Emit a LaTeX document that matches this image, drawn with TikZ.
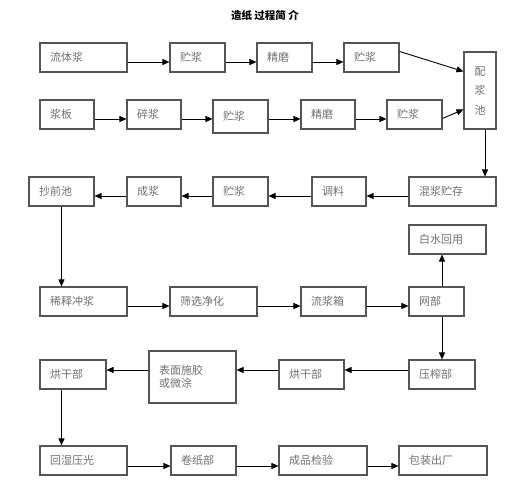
\documentclass[tikz,border=0pt]{standalone}
\usepackage{fontspec}
\newfontfamily\cjk{Noto Sans CJK SC}
\usetikzlibrary{arrows.meta,calc}
\definecolor{txtgray}{HTML}{707070}
\definecolor{boxgray}{HTML}{555555}
\tikzset{
  bx/.style={draw=boxgray, line width=1.1pt, fill=white, inner xsep=10pt, inner ysep=0pt,
    align=left, text=txtgray, font=\cjk\fontsize{11}{13}\selectfont},
  arr/.style={line width=0.9pt, draw=black, -{Triangle[length=7pt,width=6pt]}},
}
\newcommand\bx[6]{%
  \pgfmathsetmacro\bxw{#4-#2}\pgfmathsetmacro\bxh{#5-#3}\pgfmathsetmacro\bxt{#4-#2-20}%
  \node[bx, minimum width=\bxw pt, minimum height=\bxh pt, text width=\bxt pt]
    (#1) at ({(#2+#4)/2},{(#3+#5)/2}) {#6};}
\begin{document}
\begin{tikzpicture}[x=1pt,y=-1pt]
\useasboundingbox (0,0) rectangle (531,489);
\node[font=\cjk\bfseries\fontsize{10.5}{12}\selectfont] (title) at (265,15) {造纸 过程简 介};
% row 1
\bx{a1}{40}{43}{127}{72}{流体浆}
\bx{a2}{170}{43}{225}{72}{贮浆}
\bx{a3}{257}{43}{312}{72}{精磨}
\bx{a4}{344}{43}{399}{72}{贮浆}
\node[bx, align=center, inner xsep=0pt, minimum width=32pt, minimum height=77pt,
  font=\cjk\fontsize{11}{19.5}\selectfont] (pj) at (480,90.5) {配\\浆\\池};
% row 2
\bx{b1}{40}{100}{94}{129}{浆板}
\bx{b2}{127}{100}{181}{129}{碎浆}
\bx{b3}{213}{100}{268}{133}{贮浆}
\bx{b4}{301}{100}{355}{129}{精磨}
\bx{b5}{387}{100}{442}{129}{贮浆}
% row 3
\bx{c1}{29}{177}{94}{206}{抄前池}
\bx{c2}{127}{177}{181}{206}{成浆}
\bx{c3}{213}{177}{268}{206}{贮浆}
\bx{c4}{312}{177}{366}{206}{调料}
\bx{c5}{409}{177}{496}{206}{混浆贮存}
\bx{ww}{409}{225}{486}{254}{白水回用}
% row 4
\bx{d1}{40}{287}{127}{316}{稀释冲浆}
\bx{d2}{170}{287}{257}{316}{筛选净化}
\bx{d3}{301}{287}{366}{316}{流浆箱}
\bx{d4}{409}{287}{464}{316}{网部}
% row 5
\bx{e1}{40}{360}{106}{389}{烘干部}
\begin{scope}[every node/.append style={font=\cjk\fontsize{11}{18}\selectfont}]
\bx{e2}{149}{351}{236}{403}{表面施胶\\或微涂}
\end{scope}
\bx{e3}{279}{360}{344}{389}{烘干部}
\bx{e4}{409}{360}{475}{389}{压榨部}
% row 6
\bx{f1}{40}{446}{127}{475}{回湿压光}
\bx{f2}{171}{446}{236}{475}{卷纸部}
\bx{f3}{279}{446}{367}{475}{成品检验}
\bx{f4}{399}{446}{487}{475}{包装出厂}
% arrow levels
\coordinate (y1) at (0,62);
\coordinate (y2) at (0,119);
\coordinate (y3) at (0,196);
\coordinate (y4) at (0,306);
\coordinate (y5) at (0,370);
\coordinate (y6) at (0,466);
% row 1 arrows
\draw[arr] (a1.east |- y1) -- (a2.west |- y1);
\draw[arr] (a2.east |- y1) -- (a3.west |- y1);
\draw[arr] (a3.east |- y1) -- (a4.west |- y1);
\draw[arr] ($(a4.north east)+(0,9)$) -- ($(pj.north west)+(0,20)$);
% row 2 arrows
\draw[arr] (b1.east |- y2) -- (b2.west |- y2);
\draw[arr] (b2.east |- y2) -- (b3.west |- y2);
\draw[arr] (b3.east |- y2) -- (b4.west |- y2);
\draw[arr] (b4.east |- y2) -- (b5.west |- y2);
\draw[arr] ($(b5.north east)+(0,19)$) -- ($(pj.north west)+(0,58)$);
% down to row 3
\coordinate (v1) at ($(pj.south)+(5,0)$);
\draw[arr] (v1) -- (v1 |- c5.north);
% row 3 arrows
\draw[arr] (c5.west |- y3) -- (c4.east |- y3);
\draw[arr] (c4.west |- y3) -- (c3.east |- y3);
\draw[arr] (c3.west |- y3) -- (c2.east |- y3);
\draw[arr] (c2.west |- y3) -- (c1.east |- y3);
\draw[arr] (c1.south) -- (c1.south |- d1.north);
% row 4 arrows
\draw[arr] (d1.east |- y4) -- (d2.west |- y4);
\draw[arr] (d2.east |- y4) -- (d3.west |- y4);
\draw[arr] (d3.east |- y4) -- (d4.west |- y4);
\draw[arr] (d4.north -| e4.north) -- (ww.south -| e4.north);
\draw[arr] (d4.south -| e4.north) -- (e4.north);
% row 5 arrows
\draw[arr] (e4.west |- y5) -- (e3.east |- y5);
\draw[arr] (e3.west |- y5) -- (e2.east |- y5);
\draw[arr] (e2.west |- y5) -- (e1.east |- y5);
\draw[arr] (e1.south -| c1.south) -- (f1.north -| c1.south);
% row 6 arrows
\draw[arr] (f1.east |- y6) -- (f2.west |- y6);
\draw[arr] (f2.east |- y6) -- (f3.west |- y6);
\draw[arr] (f3.east |- y6) -- (f4.west |- y6);
\end{tikzpicture}
\end{document}
